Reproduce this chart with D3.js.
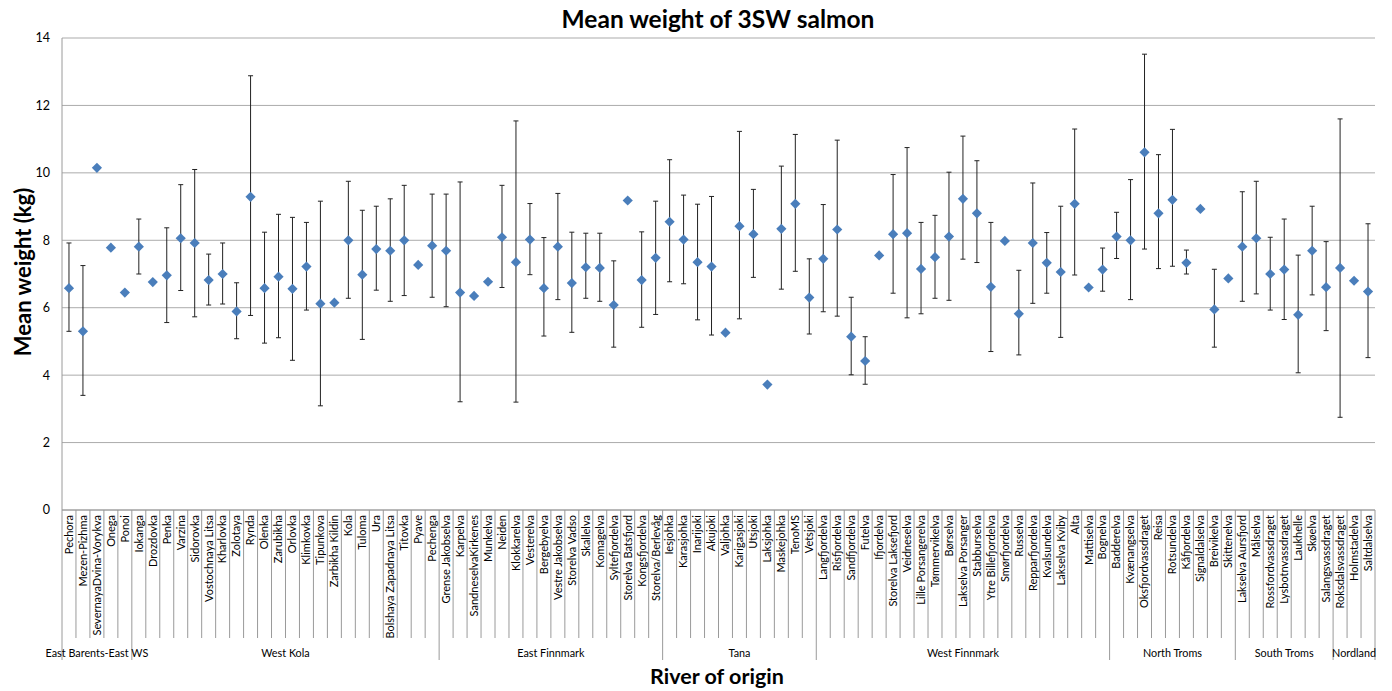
<!DOCTYPE html>
<html>
<head>
<meta charset="utf-8">
<script src="https://cdn.jsdelivr.net/npm/d3@7"></script>
<style>
  html, body { margin: 0; padding: 0; background: #fff; }
  svg { display: block; font-family: Lato, "Open Sans", sans-serif; }
</style>
</head>
<body>
<svg id="chart" width="1392" height="691"></svg>
<script>
// ---- data ----
const groups = [
  { name: "East Barents-East WS", count: 5 },
  { name: "West Kola", count: 22 },
  { name: "East Finnmark", count: 16 },
  { name: "Tana", count: 11 },
  { name: "West Finnmark", count: 21 },
  { name: "North Troms", count: 9 },
  { name: "South Troms", count: 7 },
  { name: "Nordland", count: 3 }
];
const rivers = [
  "Pechora","Mezen-Pizhma","SevernayaDvina-Vorykva","Onega","Ponoi",
  "Iokanga","Drozdovka","Penka","Varzina","Sidorovka","Vostochnaya Litsa","Kharlovka","Zolotaya","Rynda","Olenka","Zarubikha","Orlovka","Klimkovka","Tipunkova","Zarbikha Kildin","Kola","Tuloma","Ura","Bolshaya Zapadnaya Litsa","Titovka","Pyave","Pechenga",
  "Grense Jakobselva","Karpelva","SandneselvaKirkenes","Munkelva","Neiden","Klokkarelva","Vesterelva","Bergebyelva","Vestre Jakobselva","Storelva Vadso","Skallelva","Komagelva","Syltefjordelva","Storelva Batsfjord","Kongsfjordelva","Storelva/Berlevåg",
  "Iesjohka","Karasjohka","Inarijoki","Akujoki","Valjohka","Karigasjoki","Utsjoki","Laksjohka","Maskejohka","TenoMS","Vetsjoki",
  "Langfjordelva","Risfjordelva","Sandfjordelva","Futelva","Ifjordelva","Storelva Laksefjord","Veidneselva","Lille Porsangerelva","Tømmervikelva","Børselva","Lakselva Porsanger","Stabburselva","Ytre Billefjordelva","Smørfjordelva","Russelva","Repparfjordelva","Kvalsundelva","Lakselva Kviby","Alta","Mattiselva","Bognelva",
  "Badderelva","Kvænangselva","Oksfjordvassdraget","Reisa","Rotsundelva","Kåfjordelva","Signaldalselva","Breivikelva","Skittenelva",
  "Lakselva Aursfjord","Målselva","Rossfordvassdraget","Lysbotnvassdraget","Laukhelle","Skøelva","Salangsvassdraget",
  "Roksdalsvassdraget","Holmstadelva","Saltdalselva"
];
const meanWeight = [
  6.58,5.30,10.15,7.78,6.45,
  7.81,6.76,6.96,8.06,7.92,6.82,7.00,5.89,9.29,6.58,6.92,6.56,7.22,6.12,6.15,8.00,6.98,7.74,7.69,8.00,7.27,7.84,
  7.69,6.45,6.35,6.77,8.09,7.35,8.02,6.58,7.81,6.73,7.20,7.18,6.08,9.18,6.82,7.48,
  8.55,8.02,7.35,7.22,5.26,8.42,8.18,3.72,8.34,9.08,6.30,
  7.45,8.32,5.14,4.42,7.55,8.18,8.21,7.15,7.50,8.11,9.23,8.80,6.62,7.98,5.82,7.92,7.33,7.06,9.08,6.60,7.13,
  8.11,8.00,10.61,8.80,9.20,7.33,8.93,5.95,6.87,
  7.81,8.06,7.00,7.13,5.79,7.69,6.61,
  7.18,6.80,6.48
];
const upperWeight = [
  7.92,7.25,null,null,null,
  8.63,null,8.37,9.65,10.10,7.59,7.92,6.74,12.88,8.24,8.77,8.68,8.53,9.16,null,9.75,8.89,9.01,9.23,9.63,null,9.37,
  9.37,9.73,null,null,9.63,11.54,9.09,8.08,9.39,8.24,8.21,8.21,7.39,null,8.25,9.16,
  10.39,9.34,9.07,9.30,null,11.23,9.51,null,10.20,11.14,7.45,
  9.06,10.97,6.31,5.14,null,9.95,10.75,8.53,8.74,10.02,11.09,10.36,8.53,null,7.11,9.70,8.23,9.01,11.30,null,7.77,
  8.83,9.80,13.52,10.54,11.29,7.71,null,7.14,null,
  9.44,9.75,8.09,8.63,7.56,9.01,7.96,
  11.60,null,8.49
];
const lowerWeight = [
  5.30,3.40,null,null,null,
  7.00,null,5.56,6.51,5.73,6.08,6.11,5.08,5.77,4.95,5.11,4.44,5.93,3.09,null,6.28,5.06,6.52,6.19,6.36,null,6.31,
  6.03,3.21,null,null,6.60,3.20,6.98,5.16,6.24,5.27,6.28,6.19,4.83,null,5.42,5.80,
  6.77,6.71,5.64,5.19,null,5.67,6.90,null,6.55,7.08,5.22,
  5.88,5.75,4.01,3.73,null,6.43,5.70,5.82,6.28,6.22,7.44,7.34,4.70,null,4.60,6.13,6.43,5.12,6.97,null,6.49,
  7.46,6.24,7.74,7.16,7.23,7.00,null,4.83,null,
  6.19,6.41,5.93,5.65,4.07,6.38,5.32,
  2.75,null,4.52
];
const yTicks = [0, 2, 4, 6, 8, 10, 12, 14];

// ---- layout ----
const svg = d3.select("#chart");
const mLeft = 62, mRight = 1375, mTop = 38, mBottom = 510;
const catLineEnd = 638, groupLineEnd = 660;

const x = d3.scaleBand().domain(rivers).range([mLeft, mRight]).paddingInner(0).paddingOuter(0);
const y = d3.scaleLinear().domain([0, 14]).range([mBottom, mTop]);

// gridlines
svg.append("g").selectAll("line").data(yTicks).join("line")
  .attr("x1", mLeft).attr("x2", mRight)
  .attr("y1", d => y(d)).attr("y2", d => y(d))
  .attr("stroke", "#ababab").attr("stroke-width", 1);

// y axis line
svg.append("line").attr("x1", mLeft).attr("x2", mLeft).attr("y1", mTop).attr("y2", groupLineEnd)
  .attr("stroke", "#9a9a9a").attr("stroke-width", 1);

// y tick labels
svg.append("g").selectAll("text").data(yTicks).join("text")
  .attr("x", mLeft - 12).attr("y", d => y(d)).attr("dy", "0.35em")
  .attr("text-anchor", "end").attr("font-size", 12.5).attr("fill", "#000")
  .text(d => d);

// category separators
const groupStarts = [];
let acc = 0;
groups.forEach(g => { groupStarts.push(acc); acc += g.count; });
const groupBoundSet = new Set(groupStarts.concat([rivers.length]));
svg.append("g").selectAll("line").data(d3.range(1, rivers.length + 1)).join("line")
  .attr("x1", i => i === rivers.length ? mRight : x(rivers[i]))
  .attr("x2", i => i === rivers.length ? mRight : x(rivers[i]))
  .attr("y1", mBottom)
  .attr("y2", i => groupBoundSet.has(i) ? groupLineEnd : catLineEnd)
  .attr("stroke", "#9a9a9a").attr("stroke-width", 1);

// category labels
svg.append("g").selectAll("text").data(rivers).join("text")
  .attr("transform", d => `translate(${x(d) + x.bandwidth() / 2},${mBottom + 5}) rotate(-90)`)
  .attr("dy", "0.35em").attr("text-anchor", "end")
  .attr("font-size", 11).attr("fill", "#000")
  .text(d => d);

// group labels
svg.append("g").selectAll("text").data(groups).join("text")
  .attr("x", (g, i) => {
    const s = groupStarts[i];
    const x0 = x(rivers[s]);
    const x1 = x(rivers[s + g.count - 1]) + x.bandwidth();
    return (x0 + x1) / 2;
  })
  .attr("y", 653).attr("dy", "0.35em").attr("text-anchor", "middle")
  .attr("font-size", 10.8).attr("fill", "#000")
  .text(g => g.name);

// x axis baseline
svg.append("line").attr("x1", mLeft).attr("x2", mRight).attr("y1", mBottom).attr("y2", mBottom)
  .attr("stroke", "#9a9a9a").attr("stroke-width", 1);

// error bars
const rows = rivers.map((r, i) => ({ r, m: meanWeight[i], hi: upperWeight[i], lo: lowerWeight[i] }));
const eb = svg.append("g").attr("stroke", "#222").attr("stroke-width", 1);
const withErr = rows.filter(d => d.hi !== null && d.lo !== null);
const cx = d => x(d.r) + x.bandwidth() / 2;
eb.selectAll("line.v").data(withErr).join("line").attr("class", "v")
  .attr("x1", cx).attr("x2", cx).attr("y1", d => y(d.hi)).attr("y2", d => y(d.lo));
eb.selectAll("line.ch").data(withErr).join("line").attr("class", "ch")
  .attr("x1", d => cx(d) - 2.5).attr("x2", d => cx(d) + 2.5).attr("y1", d => y(d.hi)).attr("y2", d => y(d.hi));
eb.selectAll("line.cl").data(withErr).join("line").attr("class", "cl")
  .attr("x1", d => cx(d) - 2.5).attr("x2", d => cx(d) + 2.5).attr("y1", d => y(d.lo)).attr("y2", d => y(d.lo));

// markers (diamonds)
const sym = d3.symbol().type(d3.symbolSquare).size(52);
svg.append("g").selectAll("path").data(rows).join("path")
  .attr("d", sym)
  .attr("transform", d => `translate(${cx(d)},${y(d.m)}) rotate(45)`)
  .attr("fill", "#4a7ebb");

// titles
svg.append("text").attr("x", 718).attr("y", 28).attr("text-anchor", "middle")
  .attr("font-size", 24.5).attr("font-weight", "bold").text("Mean weight of 3SW salmon");
svg.append("text").attr("transform", `translate(31,${(mTop + mBottom) / 2 - 2}) rotate(-90)`)
  .attr("text-anchor", "middle").attr("font-size", 22).attr("font-weight", "bold")
  .text("Mean weight (kg)");
svg.append("text").attr("x", 717).attr("y", 684).attr("text-anchor", "middle")
  .attr("font-size", 21.5).attr("font-weight", "bold").text("River of origin");
</script>
</body>
</html>
